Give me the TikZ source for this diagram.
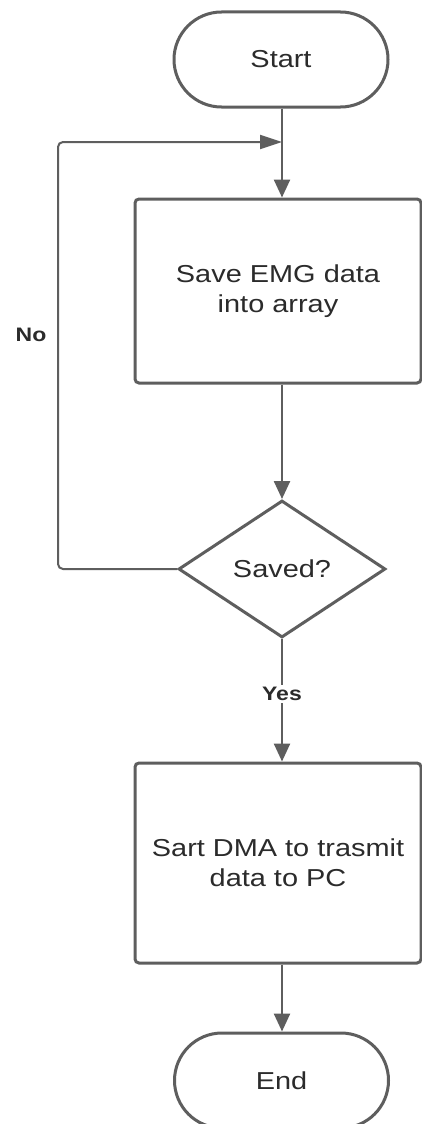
\documentclass[tikz,border=0pt]{standalone}
\usepackage{fontspec}
\setmainfont{Liberation Sans}[FakeStretch=1.18]
\usetikzlibrary{shapes.misc,shapes.geometric,arrows.meta}
\definecolor{edge}{HTML}{5E5E5E}
\definecolor{ink}{HTML}{2B2B2B}
\tikzset{
  terminal/.style={rounded rectangle, draw=edge, line width=3pt, fill=white,
    minimum width=214pt, minimum height=95pt, inner sep=0pt, text=ink,
    font=\fontsize{24.5}{30}\selectfont},
  process/.style={rectangle, rounded corners=4pt, draw=edge, line width=3pt,
    fill=white, minimum width=286pt, inner sep=0pt, align=center, text=ink,
    font=\fontsize{24.5}{30}\selectfont},
  decision/.style={diamond, draw=edge, line width=3pt, fill=white,
    minimum width=207pt, minimum height=137pt, inner sep=0pt, text=ink,
    font=\fontsize{24.5}{30}\selectfont},
  flow/.style={draw=edge, line width=2.5pt, -{Triangle[length=18pt,width=16pt]}},
  loopback/.style={draw=edge, line width=2pt, rounded corners=5pt,
    -{Triangle[length=22pt,width=14pt]}},
  branch/.style={text=ink, font=\bfseries\fontsize{19.5}{22}\selectfont, inner sep=2pt}
}
\begin{document}
\begin{tikzpicture}[x=1pt,y=-1pt]
\path[use as bounding box, clip] (0,0) rectangle (422,1124);
\fill[white] (0,0) rectangle (422,1124);

% nodes
\node[terminal] (start) at (281,59.5) {Start};
\node[process, minimum height=184pt] (save) at (278,291) {Save EMG data\\into array};
\node[decision] (saved) at (282,569) {Saved?};
\node[process, minimum height=200pt] (dma) at (278,863) {Sart DMA to trasmit\\data to PC};
\node[terminal] (end) at (281.5,1080.5) {End};

% junction where the retry path rejoins the main flow
\coordinate (join) at (282,142);
\coordinate (loopbot) at (58,569);
\coordinate (looptop) at (58,142);

% connectors
\draw[flow] (start.south -| join) -- (save.north -| join);
\draw[flow] (save.south -| join) -- (saved.north);
\draw[flow] (saved.south) -- (dma.north -| saved.south)
  node[branch, fill=white, pos=0.45] {Yes};
\draw[flow] (dma.south -| join) -- (end.north -| join);
\draw[loopback] (saved.west) -- (loopbot) -- (looptop) -- (join);

\node[branch] (no) at (31,335) {No};
\end{tikzpicture}
\end{document}
